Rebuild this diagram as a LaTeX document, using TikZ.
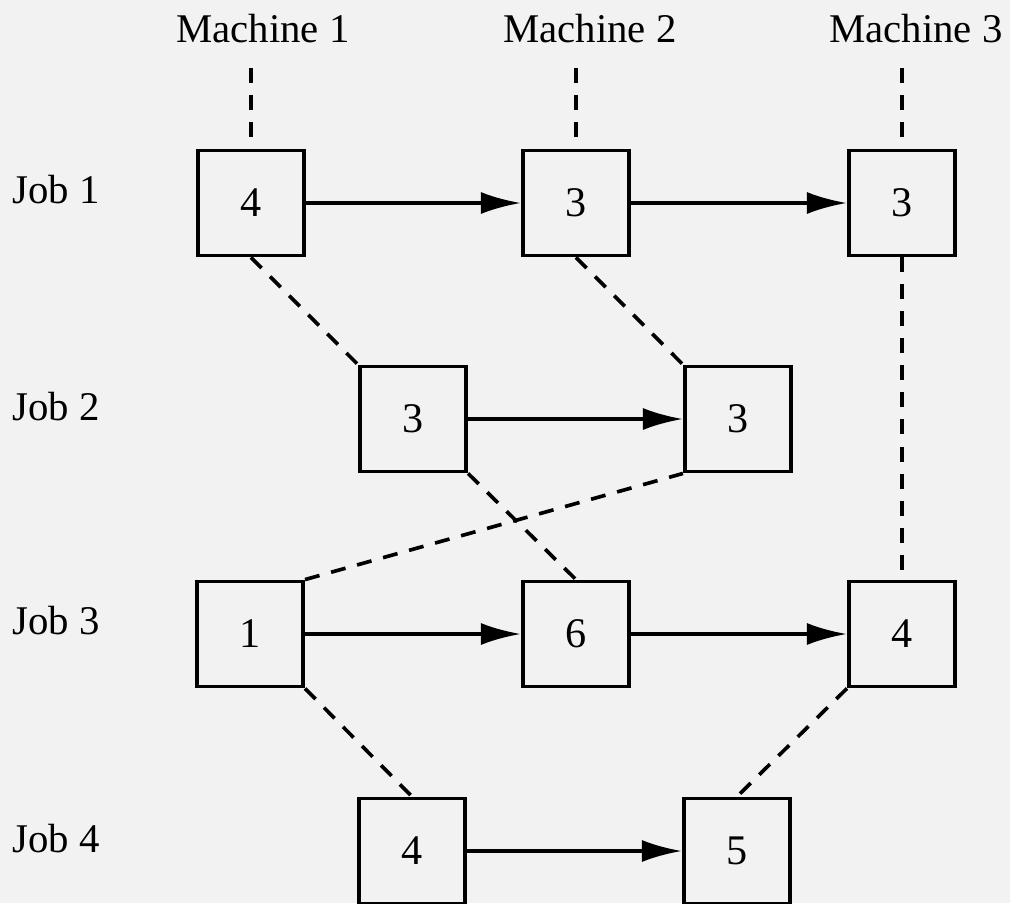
\documentclass[tikz,border=0pt]{standalone}
\usepackage{fontspec}
\setmainfont{Liberation Serif}
\usetikzlibrary{arrows.meta}
\tikzset{
  op/.style={draw, line width=2.6pt, minimum width=2.66cm, minimum height=2.63cm,
    inner sep=0pt, font=\fontsize{30}{34}\selectfont},
  lbl/.style={inner sep=0pt, font=\fontsize{29}{34}\selectfont},
  seq/.style={line width=2.6pt, -{Latex[length=1cm,width=0.55cm]}},
  mach/.style={line width=2.6pt, dash pattern=on 0.375cm off 0.3cm}
}
\begin{document}
\begin{tikzpicture}[x=0.025cm, y=-0.025cm]
  \fill[black!5] (0,0) rectangle (1010,903);
  \useasboundingbox (0,0) rectangle (1010,903);
  \node[lbl, anchor=base] (m1) at (263,42) {Machine 1};
  \node[lbl, anchor=base] (m2) at (590,42) {Machine 2};
  \node[lbl, anchor=base] (m3) at (916,42) {Machine 3};
  \foreach \j/\y in {1/203,2/420,3/634,4/852}
    \node[lbl, anchor=base west] (job\j) at (12,\y) {Job \j};
  \node[op] (j1a) at (251,203) {4};
  \node[op] (j1b) at (576,203) {3};
  \node[op] (j1c) at (902,203) {3};
  \node[op] (j2a) at (413,419) {3};
  \node[op] (j2b) at (738,419) {3};
  \node[op] (j3a) at (250,634) {1};
  \node[op] (j3b) at (576,634) {6};
  \node[op] (j3c) at (902,634) {4};
  \node[op] (j4a) at (412,851) {4};
  \node[op] (j4b) at (737,851) {5};
  \coordinate (t1) at (251,68);
  \coordinate (t2) at (576,68);
  \coordinate (t3) at (902,68);
  \draw[mach] (t1) -- ++(0,69) (t2) -- ++(0,69) (t3) -- ++(0,69);
  \draw[seq] (j1a.east) -- (j1b.west);
  \draw[seq] (j1b.east) -- (j1c.west);
  \draw[seq] (j2a.east) -- (j2b.west);
  \draw[seq] (j3a.east) -- (j3b.west);
  \draw[seq] (j3b.east) -- (j3c.west);
  \draw[seq] (j4a.east) -- (j4b.west);
  \draw[mach] (j1a.south) -- (j2a.north west) (j2a.south east) -- (j3b.north);
  \draw[mach] (j1b.south) -- (j2b.north west);
  \draw[mach] (j3a.north east) -- (j2b.south west);
  \draw[mach] (j1c.south) -- (j3c.north);
  \draw[mach] (j3a.south east) -- (j4a.north);
  \draw[mach] (j3c.south west) -- (j4b.north);
\end{tikzpicture}
\end{document}
